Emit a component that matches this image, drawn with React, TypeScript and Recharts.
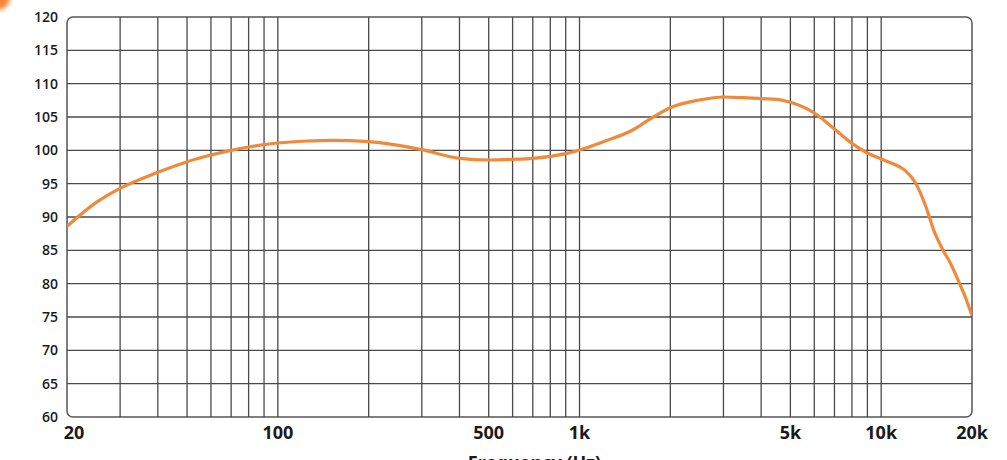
import {
  LineChart,
  Line,
  XAxis,
  YAxis,
  ReferenceLine,
  ReferenceArea,
} from 'recharts';

// frequency response, Hz -> dB SPL
const freqs = [
  20, 25, 30, 40, 50, 60, 70, 80, 90, 100, 125, 150, 200, 300, 400, 500, 600, 700, 800, 900,
  1000, 1200, 1500, 1700, 2000, 2500, 3000, 3500, 4000, 4500, 5000, 6000, 7000, 8000, 9000,
  10000, 11000, 12000, 13000, 14000, 15000, 16000, 17000, 18000, 19000, 20000,
];
const spl = [
  88.6, 92.2, 94.3, 96.7, 98.3, 99.3, 100.0, 100.5, 100.85, 101.1, 101.4, 101.5, 101.3, 100.1,
  98.8, 98.55, 98.65, 98.8, 99.1, 99.5, 100.05, 101.3, 103.05, 104.6, 106.4, 107.55, 108.0,
  107.9, 107.75, 107.65, 107.2, 105.6, 103.2, 101.05, 99.6, 98.7, 97.95, 97.0, 95.1, 91.8,
  87.8, 85.1, 83.0, 80.5, 78.0, 75.2,
];

const xTicks = [20, 100, 500, 1000, 5000, 10000, 20000];
const xTickLabels = ['20', '100', '500', '1k', '5k', '10k', '20k'];
const yTicks = [60, 65, 70, 75, 80, 85, 90, 95, 100, 105, 110, 115, 120];

// grid lines between the outer frame
const gridFreqs = [
  30, 40, 50, 60, 70, 80, 90, 100, 200, 300, 400, 500, 600, 700, 800, 900, 1000,
  2000, 3000, 4000, 5000, 6000, 7000, 8000, 9000, 10000,
];
const gridLevels = [65, 70, 75, 80, 85, 90, 95, 100, 105, 110, 115];

const GRID = '#4a4a4a';
const ORANGE = '#f08a3a';
const FONT = '"Open Sans", sans-serif';

function XTick(props: any) {
  const { x, y, payload, index } = props;
  const dx = index === 0 ? 7 : 0;
  const label = xTickLabels[xTicks.indexOf(payload.value)] ?? String(payload.value);
  return (
    <text
      x={x + dx}
      y={y}
      dy={14}
      textAnchor="middle"
      fontFamily={FONT}
      fontWeight={700}
      fontSize={18}
      fill="#1a1a1a"
    >
      {label}
    </text>
  );
}

export default function App() {
  const data = freqs.map((f, i) => ({ f, spl: spl[i] }));

  return (
    <div style={{ position: 'absolute', left: 0, top: 0, width: 1007, height: 460, background: '#fff', overflow: 'hidden' }}>
      <div
        style={{
          position: 'absolute',
          left: -14,
          top: -14,
          width: 24,
          height: 24,
          borderRadius: '50%',
          background: ORANGE,
          filter: 'blur(2px)',
        }}
      />
      <LineChart
        width={1007}
        height={460}
        data={data}
        margin={{ top: 17, right: 35, left: 0, bottom: 0 }}
      >
        <XAxis
          dataKey="f"
          type="number"
          scale="log"
          domain={[20, 20000]}
          ticks={xTicks}
          interval={0}
          allowDataOverflow
          axisLine={false}
          tickLine={false}
          tick={<XTick />}
          height={43}
          label={{
            value: 'Frequency (Hz)',
            position: 'bottom',
            offset: -4,
            dx: 15,
            style: { fontFamily: FONT, fontWeight: 700, fontSize: 18, fill: '#1a1a1a' },
          }}
        />
        <YAxis
          type="number"
          domain={[60, 120]}
          ticks={yTicks}
          interval={0}
          allowDataOverflow
          axisLine={false}
          tickLine={false}
          tickSize={0}
          tickMargin={9}
          width={67}
          tick={{ fontFamily: FONT, fontWeight: 600, fontSize: 14, fill: '#1a1a1a' }}
        />
        {gridLevels.map((v) => (
          <ReferenceLine key={'h' + v} y={v} stroke={GRID} strokeWidth={1.3} />
        ))}
        {gridFreqs.map((f) => (
          <ReferenceLine key={'v' + f} x={f} stroke={GRID} strokeWidth={1.3} />
        ))}
        <ReferenceArea
          x1={20}
          x2={20000}
          y1={60}
          y2={120}
          shape={(p: any) => (
            <rect
              x={p.x}
              y={p.y}
              width={p.width}
              height={p.height}
              rx={6}
              ry={6}
              fill="none"
              stroke="#555"
              strokeWidth={1.5}
            />
          )}
        />
        <Line
          type="monotone"
          dataKey="spl"
          stroke={ORANGE}
          strokeWidth={3.2}
          dot={false}
          isAnimationActive={false}
        />
      </LineChart>
    </div>
  );
}
